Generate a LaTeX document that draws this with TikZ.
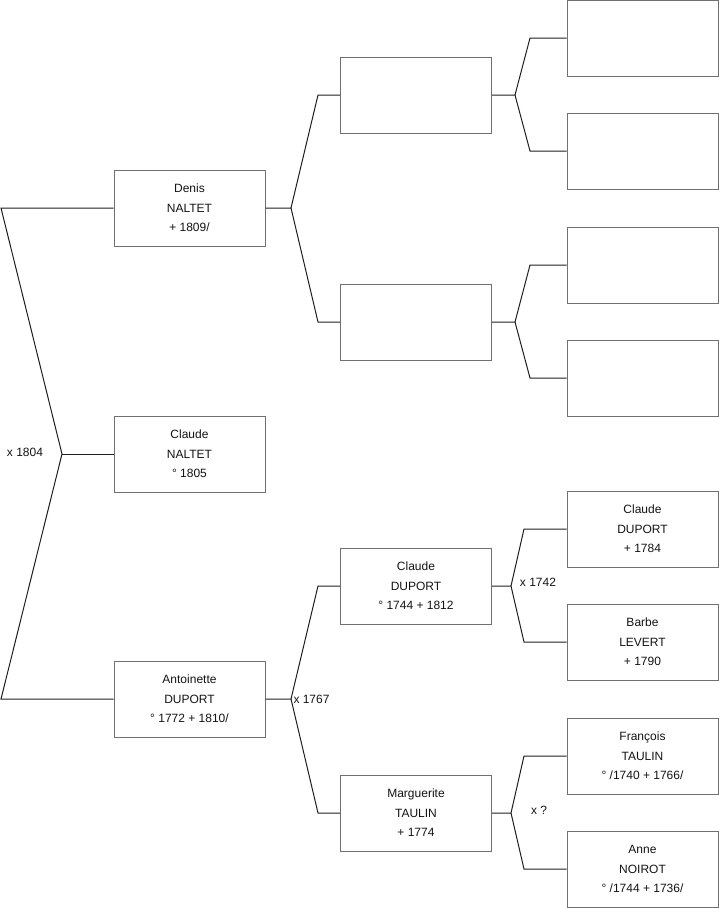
\documentclass[tikz,border=0pt]{standalone}
\usepackage{fontspec}
\setmainfont{Liberation Sans}
\usetikzlibrary{positioning}
\definecolor{BoxGray}{RGB}{112,112,112}
\definecolor{LineGray}{RGB}{30,30,30}
\definecolor{InkGray}{RGB}{20,20,20}

\begin{document}
\begin{tikzpicture}[x=1pt, y=-1pt, line width=1pt,
    person/.style={draw=BoxGray, fill=white, minimum width=151pt, minimum height=76pt, inner sep=0pt, align=center, text=InkGray, font=\fontsize{12}{19.5}\selectfont},
    link/.style={draw=LineGray, line width=1pt},
    wed/.style={text=InkGray, font=\fontsize{12}{14}\selectfont, inner sep=1pt}]
    \useasboundingbox (0,0) rectangle (719,908);

    % generation 1
    \node[person] (denis) at (189.5,208) {Denis\\NALTET\\+ 1809/};
    \node[person] (claude) at (189.5,454) {Claude\\NALTET\\° 1805};
    \node[person] (antoinette) at (189.5,699) {Antoinette\\DUPORT\\° 1772 + 1810/};

    % generation 2
    \node[person] (denisF) at (416,95) {};
    \node[person] (denisM) at (416,322) {};
    \node[person] (claudeD) at (416,586) {Claude\\DUPORT\\° 1744 + 1812};
    \node[person] (marguerite) at (416,813) {Marguerite\\TAULIN\\+ 1774};

    % generation 3
    \node[person] (ffF) at (642.5,38) {};
    \node[person] (ffM) at (642.5,151) {};
    \node[person] (fmF) at (642.5,265) {};
    \node[person] (fmM) at (642.5,378) {};
    \node[person] (claudeDD) at (642.5,529) {Claude\\DUPORT\\+ 1784};
    \node[person] (barbe) at (642.5,642) {Barbe\\LEVERT\\+ 1790};
    \node[person] (francois) at (642.5,756) {François\\TAULIN\\° /1740 + 1766/};
    \node[person] (anne) at (642.5,869) {Anne\\NOIROT\\° /1744 + 1736/};

    % fork points
    \coordinate (top1) at (1,208);
    \coordinate (bot1) at (1,699);
    \coordinate (fork1) at (62,454);
    \coordinate (fork2) at (291,208);
    \coordinate (fork3) at (291,699);
    \coordinate (fork4) at (515,95);
    \coordinate (fork5) at (515,322);
    \coordinate (fork6) at (511,586);
    \coordinate (fork7) at (511,813);

    % couples
    \draw[link] (denis.west) -- (top1) -- (fork1) -- (bot1) -- (antoinette.west);
    \draw[link] (fork1) -- (claude.west);
    \draw[link] (denis.east) -- (fork2) -- (318,95) -- (denisF.west);
    \draw[link] (fork2) -- (318,322) -- (denisM.west);
    \draw[link] (antoinette.east) -- (fork3) -- (318,586) -- (claudeD.west);
    \draw[link] (fork3) -- (318,813) -- (marguerite.west);
    \draw[link] (denisF.east) -- (fork4) -- (530,38) -- (ffF.west);
    \draw[link] (fork4) -- (530,151) -- (ffM.west);
    \draw[link] (denisM.east) -- (fork5) -- (530,265) -- (fmF.west);
    \draw[link] (fork5) -- (530,378) -- (fmM.west);
    \draw[link] (claudeD.east) -- (fork6) -- (524,529) -- (claudeDD.west);
    \draw[link] (fork6) -- (524,642) -- (barbe.west);
    \draw[link] (marguerite.east) -- (fork7) -- (524,756) -- (francois.west);
    \draw[link] (fork7) -- (524,869) -- (anne.west);

    % marriages
    \node[wed] (m1) at (25,452) {x 1804};
    \node[wed, right=1pt of fork3] (m2) {x 1767};
    \node[wed] (m3) at (538,582) {x 1742};
    \node[wed] (m4) at (539,810) {x ?};
\end{tikzpicture}
\end{document}
